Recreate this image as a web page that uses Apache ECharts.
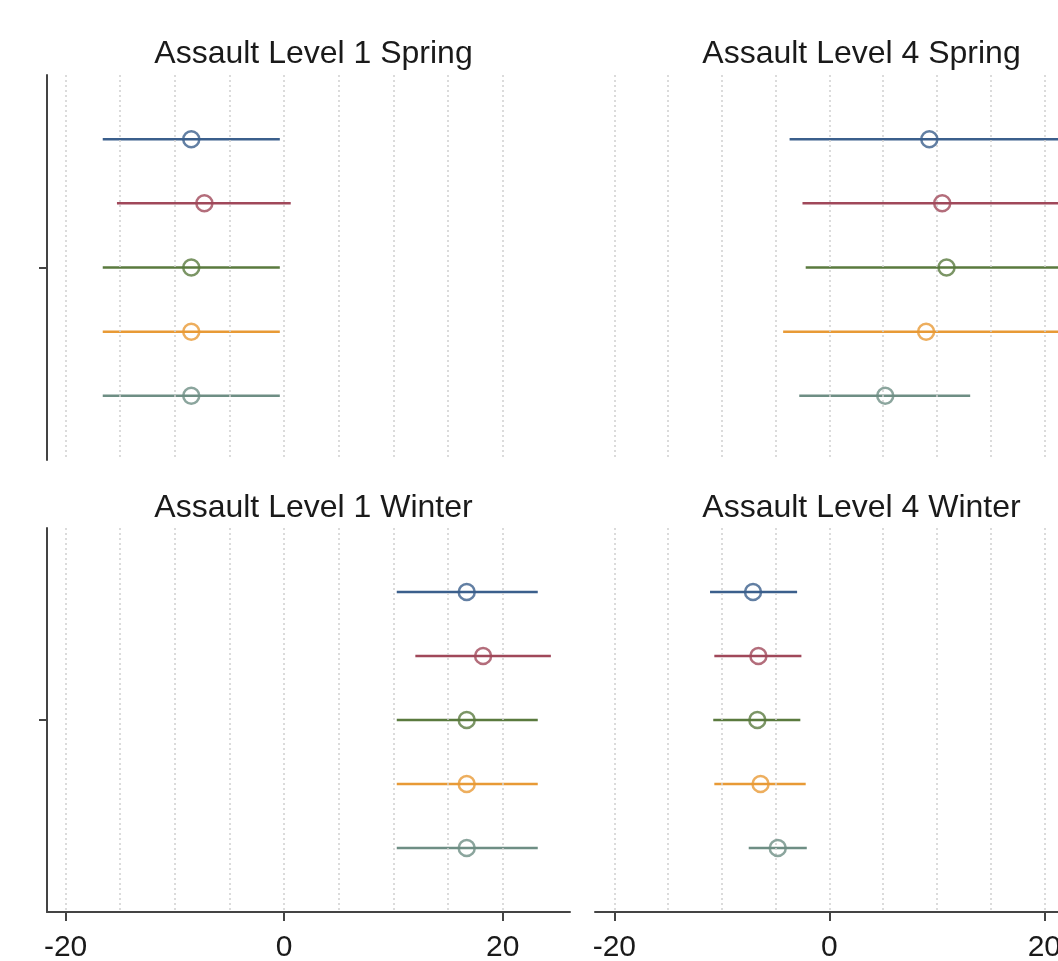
<!DOCTYPE html>
<html>
<head>
<meta charset="utf-8">
<script src="https://cdn.jsdelivr.net/npm/echarts@6/dist/echarts.min.js"></script>
<style>
  html, body { margin: 0; padding: 0; background: #fff; }
  #chart { width: 1058px; height: 961px; }
</style>
</head>
<body>
<div id="chart"></div>
<script>
const panelTitles = ['Assault Level 1 Spring', 'Assault Level 4 Spring', 'Assault Level 1 Winter', 'Assault Level 4 Winter'];
const rows = [1, 2, 3, 4, 5];
const gridTicks = [-20, -15, -10, -5, 0, 5, 10, 15, 20];
const labelTicks = [-20, 0, 20];

// estimate, lower and upper bound, one entry per row (top to bottom)
const l1SpringEst = [-8.5, -7.3, -8.5, -8.5, -8.5];
const l1SpringLo = [-16.6, -15.3, -16.6, -16.6, -16.6];
const l1SpringHi = [-0.4, 0.6, -0.4, -0.4, -0.4];

const l4SpringEst = [9.3, 10.5, 10.9, 9.0, 5.2];
const l4SpringLo = [-3.7, -2.5, -2.2, -4.3, -2.8];
const l4SpringHi = [22.3, 23.5, 24.0, 22.3, 13.1];

const l1WinterEst = [16.7, 18.2, 16.7, 16.7, 16.7];
const l1WinterLo = [10.3, 12.0, 10.3, 10.3, 10.3];
const l1WinterHi = [23.2, 24.4, 23.2, 23.2, 23.2];

const l4WinterEst = [-7.1, -6.6, -6.7, -6.4, -4.8];
const l4WinterLo = [-11.1, -10.7, -10.8, -10.7, -7.5];
const l4WinterHi = [-3.0, -2.6, -2.7, -2.2, -2.1];

const colors = ['#3b5f8c', '#a0485a', '#5a7a3e', '#e89a36', '#6e8e84'];

const panels = [
  { est: l1SpringEst, lo: l1SpringLo, hi: l1SpringHi },
  { est: l4SpringEst, lo: l4SpringLo, hi: l4SpringHi },
  { est: l1WinterEst, lo: l1WinterLo, hi: l1WinterHi },
  { est: l4WinterEst, lo: l4WinterLo, hi: l4WinterHi }
];

const chart = echarts.init(document.getElementById('chart'));

// right column runs past the edge of the picture, as in the original crop
const gridBoxes = [
  { left: 47, top: 75, width: 523, height: 385 },
  { left: 595, top: 75, width: 523, height: 385 },
  { left: 47, top: 528, width: 523, height: 384 },
  { left: 595, top: 528, width: 523, height: 384 }
];
const xRanges = [[-21.7, 26.15], [-21.8, 26.85], [-21.7, 26.15], [-21.8, 26.85]];

const fontFamily = '"Liberation Sans", Arial, Helvetica, sans-serif';

const title = panelTitles.map((t, i) => ({
  text: t,
  left: gridBoxes[i].left + gridBoxes[i].width / 2,
  top: i < 2 ? 33 : 487,
  textAlign: 'center',
  textStyle: { fontFamily: fontFamily, fontSize: 32, fontWeight: 'normal', color: '#1a1a1a' }
}));

const xAxis = gridBoxes.map((g, i) => {
  const bottom = i >= 2;
  return {
    type: 'value',
    gridIndex: i,
    min: xRanges[i][0],
    max: xRanges[i][1],
    axisLine: { show: bottom, onZero: false, lineStyle: { color: '#444', width: 2 } },
    axisTick: { show: bottom, customValues: labelTicks, length: 9, lineStyle: { color: '#444', width: 2 } },
    axisLabel: { show: bottom, customValues: labelTicks, margin: 21, fontFamily: fontFamily, fontSize: 30, color: '#1a1a1a' },
    splitLine: { show: false }
  };
});

const yAxis = gridBoxes.map((g, i) => {
  const leftCol = i % 2 === 0;
  return {
    type: 'value',
    gridIndex: i,
    min: 0,
    max: 6,
    inverse: true,
    axisLine: { show: leftCol, onZero: false, lineStyle: { color: '#444', width: 2 } },
    axisTick: { show: leftCol, customValues: [3], length: 8, lineStyle: { color: '#444', width: 2 } },
    axisLabel: { show: false },
    splitLine: { show: false }
  };
});

const series = [];
panels.forEach((p, i) => {
  // dotted vertical reference lines
  series.push({
    type: 'line',
    xAxisIndex: i,
    yAxisIndex: i,
    data: [],
    silent: true,
    markLine: {
      silent: true,
      symbol: ['none', 'none'],
      label: { show: false },
      lineStyle: { type: [2, 3], color: '#cfcfcf', width: 1.5 },
      emphasis: { disabled: true },
      data: gridTicks.map(v => ({ xAxis: v }))
    }
  });
  rows.forEach((r, k) => {
    series.push({
      type: 'line',
      xAxisIndex: i,
      yAxisIndex: i,
      showSymbol: false,
      silent: true,
      data: [[p.lo[k], r], [p.hi[k], r]],
      lineStyle: { color: colors[k], width: 2.5 }
    });
    series.push({
      type: 'scatter',
      xAxisIndex: i,
      yAxisIndex: i,
      symbol: 'circle',
      symbolSize: 16,
      data: [[p.est[k], r]],
      itemStyle: { color: 'rgba(255,255,255,0)', borderColor: colors[k], borderWidth: 2.5 },
      z: 5
    });
  });
});

chart.setOption({
  animation: false,
  backgroundColor: '#fff',
  title: title,
  grid: gridBoxes.map(g => Object.assign({ containLabel: false, outerBoundsMode: 'none' }, g)),
  xAxis: xAxis,
  yAxis: yAxis,
  series: series
});
</script>
</body>
</html>
